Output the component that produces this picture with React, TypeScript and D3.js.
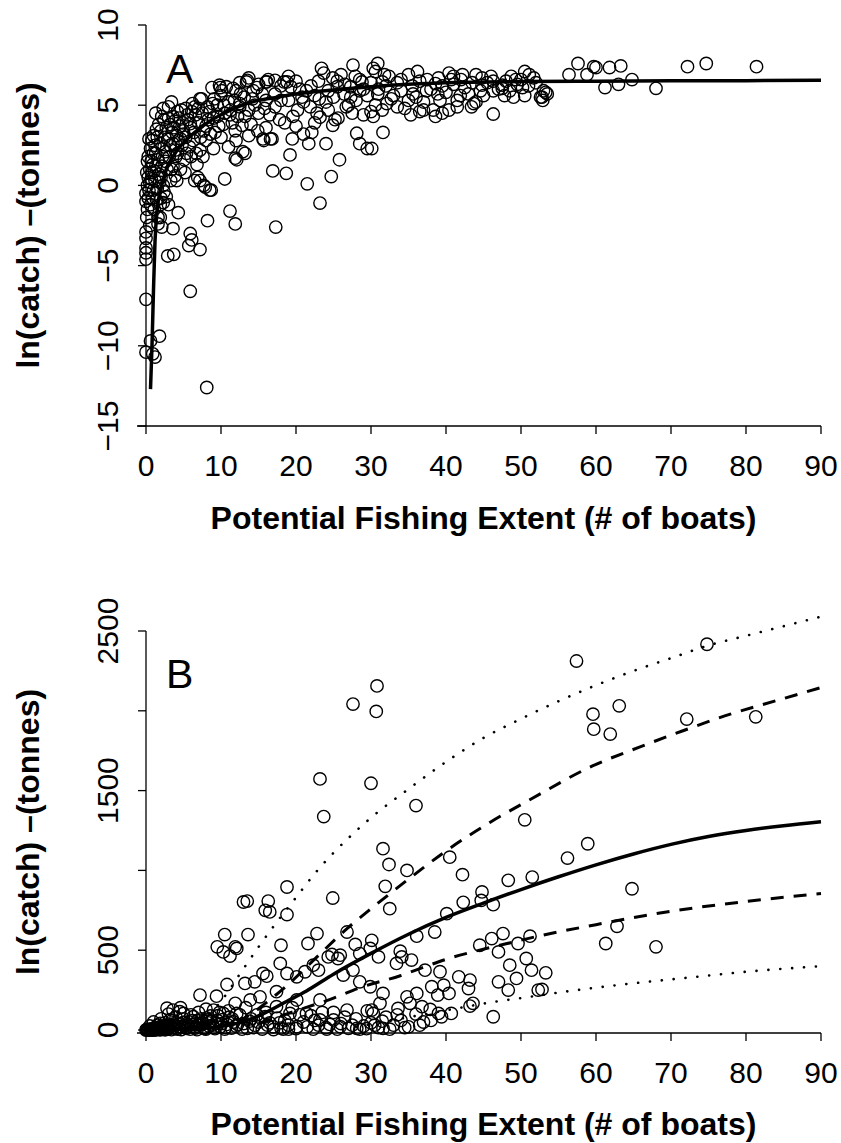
import React from "react";
import * as d3 from "d3";

// ---------- DATA ----------
const xTicks = [0, 10, 20, 30, 40, 50, 60, 70, 80, 90];
const yTicksA = [-15, -10, -5, 0, 5, 10];
const yTicksB = [0, 500, 1000, 1500, 2000, 2500];
const yLabelsB = [0, 500, 1500, 2500];

// Panel A: [potential fishing extent, ln(catch)]
const pointsA: [number, number][] = [
  [0, -10.4], [0.6, -9.7], [1.8, -9.4], [1.2, -10.7], [0.9, -10.5], [0, -7.1], [0, -4.6], [0, -3.9], [0, -2.9], [0, -3.3], [0, -4.2],
  [5.9, -6.6], [2.9, -4.4], [3.7, -4.3], [5.9, -3.0], [6.1, -3.4], [5.7, -3.75], [7.2, -4.0], [8.2, -2.2], [4.3, -1.7], [3.6, -2.7],
  [11.2, -1.6], [11.9, -2.4], [17.3, -2.6], [10.5, 0.4], [8.7, -0.3], [7.2, 0.3], [7.7, 0], [16.9, 0.9], [18.7, 0.75], [19.2, 1.9],
  [13.2, 2.0], [12.1, 1.6], [8.1, -12.6],
  [23.2, -1.1], [21.5, 0.1], [24.7, 0.55], [25.8, 1.6], [21.7, 2.6], [24, 2.6], [24.9, 3.75], [25.6, 4.2], [28.1, 3.25], [28.5, 2.6],
  [29.5, 2.3], [30.1, 2.3], [31.6, 3.3], [22.1, 3.3], [23.2, 4.25], [15.6, 2.9], [16.8, 2.9],
  [2.3, -1.07], [1.6, -2.4], [2.1, -2.6], [1.9, -2.0], [4.1, 0.3], [6.5, 0.3], [6.9, 0.5], [8.5, -0.3], [7.9, -0.1], [11.9, 1.7],
  [12.9, 2.1], [7.2, 5.4],
  [72.2, 7.4], [74.7, 7.6], [81.4, 7.4], [57.6, 7.6], [59.7, 7.4], [60, 7.35], [61.8, 7.35], [63.3, 7.45], [56.4, 6.9], [58.8, 6.9],
  [64.8, 6.6], [61.2, 6.1], [63, 6.3], [68, 6.05],
  [51.1, 6.9], [50.5, 7.1], [51.7, 6.7], [52.9, 5.3], [53.5, 5.7], [52.6, 5.5], [46.3, 4.45],
  [48.7, 6.8], [49.3, 6.6], [50.2, 6.1], [50.5, 5.6], [49, 5.5], [47.8, 5.6], [47.5, 6.05], [46.3, 5.9],
  [43.4, 4.9], [43.7, 5.1], [41.9, 5.6], [41, 6.8], [42.2, 6.9], [40.4, 7.0], [40.7, 6.6],
  [44.8, 6.7], [44.8, 6.25], [46.3, 6.5], [47.5, 6.25], [44.6, 5.9],
  [38.6, 4.3], [39.5, 4.5], [38.3, 4.7], [40.4, 4.7], [39.2, 5.3], [38.9, 5.7], [37.4, 5.9], [38.6, 6.35],
  [35, 5.3], [34.5, 4.8], [35.6, 5.7], [36.2, 7.1], [35, 6.9],
  [30.9, 7.6], [30.3, 7.3], [30.6, 7.1], [31.8, 6.9], [32.4, 6.8], [31.5, 6.45], [30.6, 5], [30, 4.6], [30.3, 4.3], [31.5, 4.7],
  [32.1, 5.1], [32.7, 5.4], [30.9, 5.7],
  [27.6, 7.5], [27.9, 6.8], [28.8, 6.45], [27.3, 6.15], [26.7, 4.9], [27.3, 5.5], [28.5, 5.9],
  [23.4, 7.3], [23.7, 7.0], [24.9, 6.7], [25.5, 6.15], [26.4, 5.7], [24.3, 5.9], [23.1, 5.4], [21.9, 4.9], [22.8, 4.5], [24.3, 4.7], [25.2, 4.1],
  [19, 6.8], [18.4, 6.45], [19.3, 6.15], [17.2, 5.7], [16, 5.3], [17.2, 4.9], [19, 5.3], [20.2, 4.7], [20.8, 5.5], [19.6, 4.3],
  [21.4, 5.9], [17.8, 4.1], [16, 3.6], [16.6, 2.9], [15.7, 2.8], [14.9, 3.4],
  [13.7, 6.7], [13.4, 6.45], [16.3, 6.6], [16, 6.45], [14.3, 5.9], [13.1, 5.5], [12.5, 5.1], [13.7, 4.7], [12.2, 4.3], [12.8, 3.75],
  [11.9, 3.4], [13.7, 3.1], [11.3, 4.7], [10.7, 6.15], [9.8, 6.25], [10.1, 5.9], [11.6, 6.05],
  [7.4, 5.4], [4.7, 4.7], [3, 4.9], [3.6, 4.3], [2.4, 4.1], [6.5, 4.9], [8.3, 4.1], [5.9, 3.85], [5, 3.4], [7.7, 3.4], [9.5, 4.3], [8.9, 5.1],
  [0, -0.5], [0, -1], [0.2, 0], [0.3, 0.5], [0.5, 1], [0.4, -0.3], [0.7, 1.5], [1, 2], [0.8, 0.8], [1.2, 2.5], [1.5, 3], [1.3, 1.2],
  [0.9, -0.8], [1.1, -1.5], [1.6, -2], [1.9, -1.2], [2, 0.5], [2.2, 1.8], [2.5, 3], [2.7, 3.6], [3, 4.2], [3.2, 2.5], [3.5, 3.3],
  [3.8, 4], [4, 1.8], [4.3, 2.8], [4.5, 3.7], [2.4, -0.4], [2.8, 1], [3.3, 0.3], [1.7, 3.8], [2.1, 4.3], [1.4, 3.5], [0.6, 2.3],
  [0.3, 1.8], [0.1, -2], [0.2, -1.5], [0.5, -2.5], [1.0, 3.1], [1.8, 0.2], [2.6, 2.1], [3.6, 1.2], [3.9, 2.2], [4.8, 2.5], [5, 3.2],
  [5.4, 2], [5.6, 4.1], [6, 3.6], [6.3, 2.8], [6.6, 4.4], [7, 3.9], [7.5, 4.5], [8, 3.7], [8.5, 4.6], [9, 4.2], [9.5, 5], [10, 5.6],
  [10.5, 4.5], [11, 5.2], [11.5, 3.9], [12, 5.9], [12.5, 4.9], [6.8, 1.3], [5.2, 0.8], [4.6, 1.0], [6, 1.8], [7.2, 2.2], [8, 2.8],
  [9.2, 3.3], [10.3, 3.8], [11, 2.4], [3, -1.2], [2, -0.8], [1.2, 0.3], [0.4, 2.9], [1.5, -0.2], [1.3, 4.5], [2.3, 4.8], [3.4, 5.2],
  [4.2, 4.6], [5.3, 4.8], [6.2, 5.1],
  [8.8, 6.1], [9.9, 6.1], [12.5, 6.4], [13.5, 6.55], [16.1, 6.45], [17.2, 6.55], [18.8, 6.45],
  [20.5, 6.0], [21, 5.2], [22, 6.2], [22.5, 5.6], [23, 6.5], [24, 5.2], [25, 5.5], [25.5, 6.5], [26, 6.9], [26.5, 6.3], [27, 5.0],
  [28, 5.3], [28.5, 6.6], [29, 6.0], [29.5, 5.6], [30, 6.4], [31, 6.0], [32, 6.2], [33, 5.6], [33.5, 6.4], [34, 5.9], [34, 6.6],
  [35.5, 6.2], [36, 5.5], [36.5, 6.5], [37, 5.2], [37.5, 6.6], [38, 6.0], [39, 6.7], [39.5, 6.2], [40, 5.8], [41, 6.3], [41.5, 5.3],
  [42, 6.6], [42.5, 6.1], [43, 5.7], [43.5, 6.4], [44, 6.9], [45, 5.6], [45.5, 6.4], [46, 6.8], [47, 6.0], [48, 6.5], [48.5, 5.9],
  [49.5, 6.3], [50, 6.6], [51, 6.2], [52, 6.4], [53, 5.9], [53.3, 5.8], [52.8, 5.5], [41.5, 4.9], [44, 5.2], [36.5, 4.6], [33.5, 4.9],
  [29, 4.4], [27.5, 4.5], [35.3, 4.4], [37, 4.7], [20, 3.7], [18.5, 3.9], [21, 3.2], [22.5, 3.9], [19.5, 2.9], [15, 4.5], [14.5, 5.0],
  [15.5, 5.7], [16.5, 4.4], [18, 5.3], [14, 3.8], [12, 2.8], [10, 3.0], [9, 2.3], [15, 6.3], [18, 6.2], [20, 6.5],
  [0.1, 0.8], [0.2, 1.5], [0.3, -0.8], [0.5, 0.2], [0.6, -1.2], [0.7, 0.4], [0.8, 2.8], [0.9, 1.3], [1.0, -0.3], [1.1, 0.9],
  [1.3, 2.0], [1.4, -0.9], [1.6, 1.6], [1.7, 0.7], [1.9, 2.6], [2.0, 3.4], [2.1, 1.2], [2.3, 0.0], [2.4, 2.4], [2.6, 1.5],
  [2.7, -0.7], [2.9, 2.9], [3.1, 1.8], [3.2, 3.8], [3.4, 1.0], [3.6, 2.6], [3.7, 3.6], [3.9, 0.6], [4.1, 3.1], [4.2, 2.0],
  [4.4, 4.2], [4.6, 2.9], [4.9, 3.9], [5.1, 1.6], [5.3, 3.0], [5.5, 4.4], [5.8, 2.4], [6.1, 4.6], [6.4, 3.3], [6.7, 2.0],
  [7.0, 4.8], [7.3, 3.0], [7.6, 1.8], [8.2, 4.9], [8.6, 3.2], [9.1, 5.4], [9.7, 3.7], [10.4, 5.0], [11.2, 4.4], [11.8, 5.3],
  [12.6, 5.7], [13.2, 4.3], [14.2, 5.4], [14.8, 6.1], [15.8, 4.8],
];

// Panel A fitted curve: [extent, ln(catch)]
const fitA: [number, number][] = [
  [0.6, -12.7], [0.8, -10], [1.0, -6.5], [1.2, -3.5], [1.5, -1.5], [2, -0.2], [2.5, 0.7], [3, 1.3], [3.6, 1.8], [4.5, 2.4],
  [5.5, 2.9], [7, 3.5], [8.5, 4.0], [10, 4.4], [12.5, 4.95], [15, 5.3], [17.5, 5.5], [20, 5.7], [25, 5.95], [30, 6.15],
  [35, 6.3], [40, 6.4], [50, 6.47], [60, 6.5], [70, 6.52], [80, 6.53], [90, 6.55],
];

// Panel B: [potential fishing extent, catch (tonnes)]
const pointsB: [number, number][] = [
  [30.8, 2156], [27.6, 2042], [30.7, 1996], [23.2, 1573], [30, 1546], [23.7, 1337], [36, 1406], [31.6, 1136], [32.4, 1037],
  [34.8, 1000], [18.8, 896], [31.9, 900], [40.5, 1083],
  [74.8, 2417], [57.4, 2312], [59.6, 1979], [59.7, 1885], [61.9, 1854], [63.1, 2031], [72.1, 1948], [81.3, 1962], [50.5, 1317],
  [42.2, 973], [44.8, 865], [48.3, 938], [51.5, 958], [56.2, 1077], [58.9, 1167], [64.8, 885], [42.3, 800], [44.7, 812],
  [62.8, 650], [61.3, 542], [68, 521], [53.3, 358], [52.8, 254],
  [46.3, 785], [40.1, 729], [32.5, 760], [24.9, 827], [18.8, 723],
  [13, 802], [13.5, 808], [16.3, 808], [15.9, 750], [16.5, 740],
  [10.5, 598], [13.6, 598], [9.5, 521], [10.3, 489], [12.1, 511], [11.2, 463], [11.9, 521],
  [18, 531], [21.6, 542], [22.8, 604], [26.8, 614], [24.8, 473], [25.6, 448], [27.9, 536], [28.5, 479], [30.1, 562], [29.9, 511], [31, 458],
  [33.9, 494], [34.1, 458], [33.4, 417], [35.4, 438], [36.1, 588], [38.5, 614],
  [44.5, 531], [46.1, 573], [47.6, 604], [47, 489], [48.5, 406], [49.6, 542], [50.7, 448], [51.2, 588], [51.4, 375], [49.4, 323],
  [48.3, 250], [47, 302], [52.3, 250],
  [37.2, 375], [39.2, 365], [41.7, 333], [43.2, 313], [43, 260], [38.1, 271], [39.7, 281], [40.4, 229], [38.9, 219], [43.6, 167],
  [43.2, 150], [36.1, 229], [34.8, 208], [35.2, 167], [33.6, 135], [36.8, 146], [37.9, 129], [39, 104], [39.4, 83], [40.7, 104], [46.3, 83],
  [7.2, 219], [9.4, 212], [10.8, 285], [11.9, 167], [13.2, 292], [14.5, 302], [15.6, 354], [16.1, 337], [17.4, 240], [17.9, 417],
  [18.8, 354], [20.1, 333], [21.2, 365], [22.3, 406], [23, 375], [24.3, 458], [25.9, 469], [26.3, 344], [27.6, 375], [28.5, 302],
  [29.9, 271], [30.1, 125], [31.2, 167], [31.6, 229], [30.3, 104], [31.6, 10], [29.4, 8], [28.1, 10], [25.9, 21], [24.1, 5],
  [22.3, 5], [20.1, 21], [18.3, 5], [17, 3], [15.9, 83], [17.4, 146], [19.2, 104], [21.4, 104], [23.2, 63], [25, 63], [26.8, 125],
  [20.1, 188], [23.2, 188], [15.2, 208], [13.9, 188], [12.1, 104], [10.3, 104], [9, 125], [8.1, 63], [6.3, 83], [5, 104], [3.6, 125],
  [3.2, 63], [1.9, 42], [1.0, 5],
  [0, 0], [0.2, 1], [0.4, 2], [0.6, 0], [0.8, 3], [1, 1], [1.2, 5], [1.4, 2], [1.6, 8], [1.8, 4], [2, 12], [2.2, 6], [2.4, 15],
  [2.6, 3], [2.8, 20], [3, 9], [3.3, 25], [3.6, 14], [3.9, 30], [4.2, 6], [4.5, 40], [4.8, 18], [5.1, 28], [5.4, 10], [5.7, 50],
  [6, 22], [6.3, 35], [6.6, 12], [6.9, 60], [7.2, 30], [7.5, 45], [7.8, 8], [8.1, 75], [8.4, 25], [8.7, 55], [9, 15], [9.3, 40],
  [9.6, 90], [9.9, 20], [10.2, 65], [10.5, 5], [10.8, 35], [11.1, 80], [11.4, 12], [11.7, 50], [12, 25], [12.5, 95], [13, 40],
  [13.5, 10], [14, 70], [14.5, 30], [15, 50], [15.5, 6], [16, 110], [16.5, 45], [17, 20], [17.5, 75], [18, 12], [18.5, 60], [19, 30],
  [19.5, 140], [20, 8], [21, 50], [22, 90], [23, 30], [24, 15], [25, 110], [26, 40], [27, 10], [28, 70], [29, 25], [30, 45], [31, 15],
  [32, 80], [33, 30], [34, 60], [35, 20], [36, 100], [37, 50], [1.5, 30], [2.5, 45], [3.5, 60], [4, 80], [5, 70], [6, 95], [7, 110],
  [8, 130], [4.6, 140], [3, 100], [2, 70], [1, 50], [0.5, 25], [2.8, 137], [4.5, 115],
  [0.1, 3], [0.3, 0], [0.5, 5], [0.7, 2], [0.9, 8], [1.1, 0], [1.3, 12], [1.5, 4], [1.7, 18], [1.9, 1], [2.1, 25], [2.3, 8],
  [2.5, 2], [2.7, 30], [2.9, 5], [3.1, 15], [3.4, 2], [3.7, 38], [4.0, 10], [4.3, 22], [4.7, 3], [5.0, 48], [5.3, 15], [5.6, 30],
  [5.9, 5], [6.2, 58], [6.5, 20], [6.8, 2], [7.1, 40], [7.4, 70], [7.7, 15], [8.0, 5], [8.3, 45], [8.6, 88], [8.9, 30], [9.2, 8],
  [9.5, 60], [9.8, 110], [10.1, 40], [10.6, 15], [11, 120], [11.5, 70], [12.2, 35], [12.8, 5], [13.3, 140], [13.8, 55], [14.3, 15],
  [14.8, 95], [16.2, 30], [17.8, 45], [19, 5], [20.5, 95], [21.5, 20], [22.5, 60], [23.5, 110], [24.5, 35], [25.5, 5], [26.5, 80],
  [27.5, 30], [28.5, 5], [29.5, 120], [30.5, 30], [31.5, 55], [32.5, 5], [33.5, 95], [34.5, 15], [36.5, 30], [38, 60],
];

// Panel B fitted lines: [extent, catch]
const fitB: [number, number][] = [
  [0, 0], [5, 4], [10, 22], [13, 52], [16, 110], [18.8, 180], [21.4, 245], [25, 350], [30, 480], [35, 600], [40, 705],
  [45, 795], [50, 880], [55, 960], [60, 1035], [65, 1103], [70, 1163], [75, 1212], [80, 1250], [85, 1280], [90, 1305],
];
const upperDashB: [number, number][] = [
  [0, 0], [5, 3], [10, 25], [13, 70], [16, 170], [19.6, 313], [22.8, 458], [26.8, 635], [30.3, 771], [34.8, 938], [40.1, 1125],
  [45.9, 1302], [51, 1438], [59.6, 1656], [65.7, 1771], [71.6, 1875], [77.9, 1979], [84, 2063], [90, 2146],
];
const lowerDashB: [number, number][] = [
  [15, 40], [20, 120], [25, 200], [28.5, 265], [33.9, 340], [37.4, 400], [40.5, 450], [43.6, 490], [48, 540], [52.5, 590],
  [60, 660], [69.4, 740], [80, 805], [90, 855],
];
const upperDotB: [number, number][] = [
  [6, 10], [8, 80], [10, 180], [12.5, 350], [15, 520], [17.5, 680], [20, 830], [22.5, 980], [25, 1110], [27.5, 1225], [30, 1330],
  [35, 1510], [40, 1680], [45, 1830], [50, 1950], [55, 2060], [60, 2160], [65, 2250], [70, 2330], [75, 2410], [80, 2470],
  [85, 2530], [90, 2590],
];
const lowerDotB: [number, number][] = [
  [28, 20], [35, 80], [41.4, 135], [46.5, 177], [50, 200], [54.8, 233], [62.8, 281], [72.5, 329], [81, 369], [90, 400],
];

// ---------- DRAWING ----------
const FONT = "'Liberation Sans', Arial, Helvetica, sans-serif";
const W = 841;
const H = 1143;

const fmt = (v: number) => (v < 0 ? "\u2212" + Math.abs(v) : String(v));

type Scale = d3.ScaleLinear<number, number>;

function Axes({
  x, y, yTicks, yLabels, axisY, xTitleY, letter, letterY,
}: {
  x: Scale; y: Scale; yTicks: number[]; yLabels: number[]; axisY: number; xTitleY: number; letter: string; letterY: number;
}) {
  const x0 = x(0);
  const yTop = y(yTicks[yTicks.length - 1]);
  const yMid = (yTop + axisY) / 2;
  const tick = 8;
  return (
    <g fontFamily={FONT} fill="#000">
      <line x1={x0} x2={x0} y1={yTop} y2={axisY} stroke="#000" strokeWidth={1.3} />
      {yTicks.map((t) => (
        <line key={"yt" + t} x1={x0 - tick} x2={x0} y1={y(t)} y2={y(t)} stroke="#000" strokeWidth={1.3} />
      ))}
      {yLabels.map((t) => (
        <text key={"yl" + t} transform={`translate(${x0 - 28.5},${y(t)}) rotate(-90)`} textAnchor="middle" fontSize={30}>
          {fmt(t)}
        </text>
      ))}
      <line x1={x0 - 9} x2={x(90)} y1={axisY} y2={axisY} stroke="#000" strokeWidth={1.3} />
      {xTicks.map((t) => (
        <line key={"xt" + t} x1={x(t)} x2={x(t)} y1={axisY} y2={axisY + tick} stroke="#000" strokeWidth={1.3} />
      ))}
      {xTicks.map((t) => (
        <text key={"xl" + t} x={x(t)} y={axisY + 50} textAnchor="middle" fontSize={30}>
          {fmt(t)}
        </text>
      ))}
      <text x={(x(0) + x(90)) / 2} y={xTitleY} textAnchor="middle" fontSize={32} fontWeight="bold">
        Potential Fishing Extent (# of boats)
      </text>
      <text transform={`translate(39,${yMid}) rotate(-90)`} textAnchor="middle" fontSize={32} fontWeight="bold">
        ln(catch) –(tonnes)
      </text>
      <text x={166} y={letterY} fontSize={41}>
        {letter}
      </text>
    </g>
  );
}

function Points({ data, x, y }: { data: [number, number][]; x: Scale; y: Scale }) {
  return (
    <g fill="none" stroke="#000" strokeWidth={1.4}>
      {data.map((d, i) => (
        <circle key={i} cx={x(d[0])} cy={y(d[1])} r={6.2} />
      ))}
    </g>
  );
}

export default function App() {
  const xA = d3.scaleLinear().domain([0, 90]).range([146, 821]);
  const yA = d3.scaleLinear().domain([-15, 10]).range([426, 25]);
  const xB = d3.scaleLinear().domain([0, 90]).range([146, 821]);
  const yB = d3.scaleLinear().domain([0, 2500]).range([1030, 631]);

  const lineA = d3.line<[number, number]>().x((d) => xA(d[0])).y((d) => yA(d[1])).curve(d3.curveMonotoneX);
  const lineB = d3.line<[number, number]>().x((d) => xB(d[0])).y((d) => yB(d[1])).curve(d3.curveMonotoneX);

  return (
    <svg width={W} height={H} viewBox={`0 0 ${W} ${H}`} style={{ position: "absolute", left: 0, top: 0, background: "#fff" }}>
      <rect x={0} y={0} width={W} height={H} fill="#fff" />
      {/* Panel A */}
      <Points data={pointsA} x={xA} y={yA} />
      <path d={lineA(fitA) || ""} fill="none" stroke="#000" strokeWidth={3.5} />
      <Axes x={xA} y={yA} yTicks={yTicksA} yLabels={yTicksA} axisY={426} xTitleY={529} letter="A" letterY={83} />

      {/* Panel B */}
      <Points data={pointsB} x={xB} y={yB} />
      <path d={lineB(fitB) || ""} fill="none" stroke="#000" strokeWidth={3.5} />
      <path d={lineB(upperDashB) || ""} fill="none" stroke="#000" strokeWidth={3} strokeDasharray="13 10" />
      <path d={lineB(lowerDashB) || ""} fill="none" stroke="#000" strokeWidth={3} strokeDasharray="13 10" />
      <path d={lineB(upperDotB) || ""} fill="none" stroke="#000" strokeWidth={2.6} strokeDasharray="0.1 11.8" strokeLinecap="round" />
      <path d={lineB(lowerDotB) || ""} fill="none" stroke="#000" strokeWidth={2.6} strokeDasharray="0.1 11.8" strokeLinecap="round" />
      <Axes x={xB} y={yB} yTicks={yTicksB} yLabels={yLabelsB} axisY={1033} xTitleY={1135} letter="B" letterY={688} />
    </svg>
  );
}
